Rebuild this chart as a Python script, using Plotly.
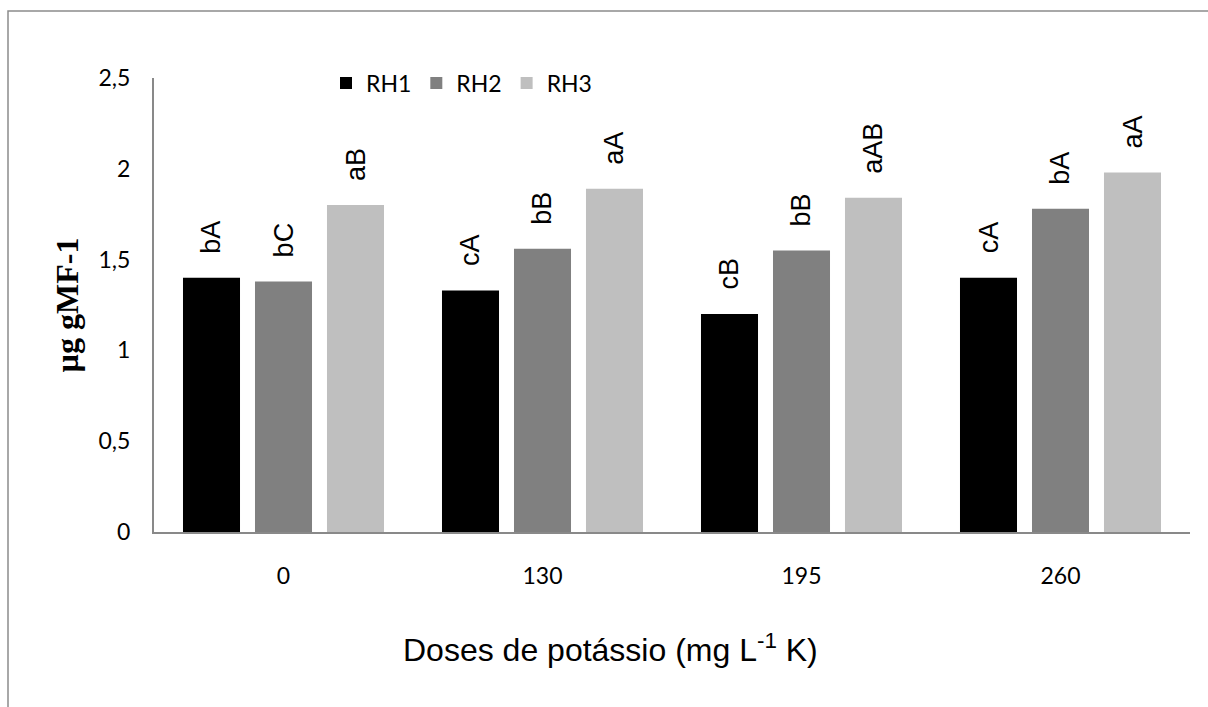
import plotly.graph_objects as go

# ---- data ----
doses = ["0", "130", "195", "260"]
series_names = ["RH1", "RH2", "RH3"]
rh1 = [1.40, 1.33, 1.20, 1.40]
rh2 = [1.38, 1.56, 1.55, 1.78]
rh3 = [1.80, 1.89, 1.84, 1.98]
letters_rh1 = ["bA", "cA", "cB", "cA"]
letters_rh2 = ["bC", "bB", "bB", "bA"]
letters_rh3 = ["aB", "aA", "aAB", "aA"]
y_ticks = [0, 0.5, 1, 1.5, 2, 2.5]

colors = ["#000000", "#808080", "#BFBFBF"]
values = [rh1, rh2, rh3]
letters = [letters_rh1, letters_rh2, letters_rh3]

W, H = 1208, 707
ML, MR, MT, MB = 154, 18, 78, 175
pw = W - ML - MR
ph = H - MT - MB

bargap = 0.166
bargroupgap = 0.208
xpos = list(range(len(doses)))

fig = go.Figure()
for name, vals, col in zip(series_names, values, colors):
    fig.add_trace(go.Bar(x=xpos, y=vals, name=name,
                         marker=dict(color=col, line=dict(width=0))))

slot = (1 - bargap) / len(series_names)
annotations = []
for j, (vals, labs) in enumerate(zip(values, letters)):
    off = (j - (len(series_names) - 1) / 2) * slot
    for i, (v, t) in enumerate(zip(vals, labs)):
        annotations.append(dict(
            x=xpos[i] + off, y=v, xref="x", yref="y",
            text=t, showarrow=False, textangle=-90,
            xanchor="center", yanchor="bottom", yshift=22,
            font=dict(family="Liberation Sans", size=27, color="#000000")))

# x axis title as annotation (positioned like the reference)
annotations.append(dict(
    x=(610 - ML) / pw, y=-(648 - (MT + ph)) / ph, xref="paper", yref="paper",
    text="Doses de potássio (mg L<sup>-1</sup> K)", showarrow=False,
    xanchor="center", yanchor="middle",
    font=dict(family="Liberation Sans", size=32, color="#000000")))

fig.update_layout(
    width=W, height=H,
    margin=dict(l=ML, r=MR, t=MT, b=MB, autoexpand=False),
    paper_bgcolor="white", plot_bgcolor="white",
    barmode="group", bargap=bargap, bargroupgap=bargroupgap,
    separators=", ",
    showlegend=True,
    legend=dict(orientation="h", x=(326 - ML) / pw, y=(MT + ph - 83) / ph,
                xanchor="left", yanchor="middle",
                font=dict(family="Lato", size=23, color="#000000"),
                bgcolor="rgba(0,0,0,0)", itemwidth=30, traceorder="normal"),
    xaxis=dict(range=[-0.5, len(doses) - 0.5], tickmode="array", tickvals=xpos, ticktext=doses,
               showgrid=False, zeroline=False, showline=True, linecolor="#898989", linewidth=2,
               ticks="", ticklabelstandoff=22,
               tickfont=dict(family="Lato", size=23, color="#000000")),
    yaxis=dict(range=[0, 2.5], tickmode="array", tickvals=y_ticks,
               showgrid=False, zeroline=False, showline=True, linecolor="#898989", linewidth=2,
               ticks="", ticklabelstandoff=17,
               tickfont=dict(family="Lato", size=23, color="#000000"),
               title=dict(text="µg gMF-1", standoff=10,
                          font=dict(family="Liberation Serif", size=32, color="#000000",
                                    weight="bold"))),
    annotations=annotations,
    shapes=[dict(type="rect", xref="paper", yref="paper",
                 x0=(8 - ML) / pw, x1=(W + 20 - ML) / pw,
                 y0=-(H + 20 - (MT + ph)) / ph, y1=(MT + ph - 11) / ph,
                 line=dict(color="#8c8c8c", width=1.5), fillcolor="rgba(0,0,0,0)", layer="below")],
)

fig.write_html("out.html")
